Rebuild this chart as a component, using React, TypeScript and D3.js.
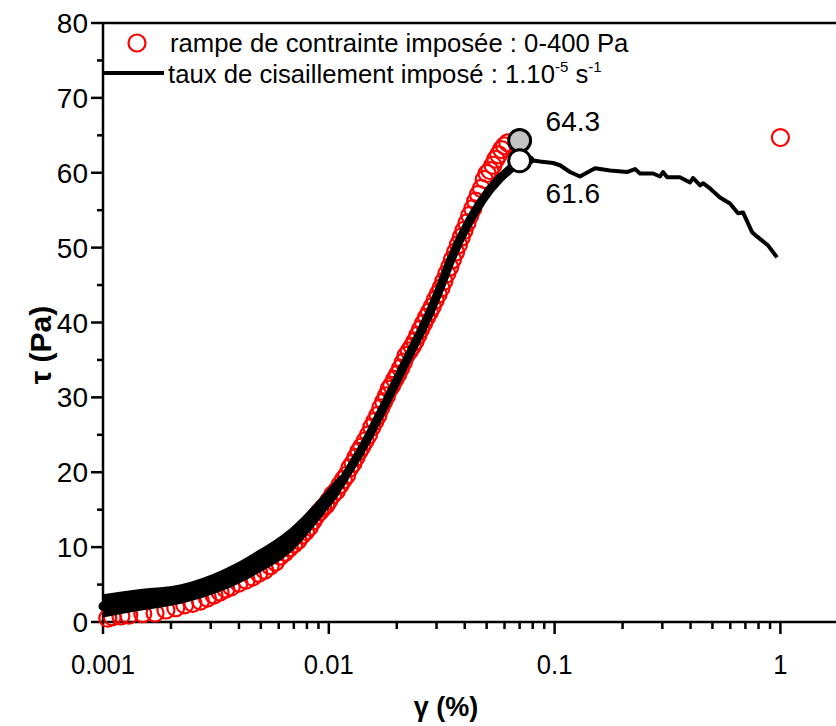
import React from "react";
import * as d3 from "d3";

// ---- Data ----
const redGamma = [0.00105, 0.0011, 0.0012, 0.0013, 0.0015, 0.0017, 0.0019, 0.0021, 0.0023, 0.0025, 0.0027, 0.0029, 0.0031, 0.0033, 0.0035, 0.0037, 0.004, 0.0043, 0.0046, 0.0049, 0.0052, 0.0055, 0.0058, 0.0061, 0.0064, 0.0067, 0.007, 0.0073, 0.0076, 0.0079, 0.0082, 0.0085, 0.0088, 0.0091, 0.0094, 0.0097, 0.01, 0.0104, 0.0108, 0.0112, 0.0116, 0.012, 0.0124, 0.0128, 0.0132, 0.0136, 0.014, 0.0145, 0.015, 0.0155, 0.016, 0.0165, 0.017, 0.0175, 0.018, 0.0185, 0.019, 0.0196, 0.0202, 0.0208, 0.0214, 0.022, 0.0227, 0.0234, 0.0241, 0.0248, 0.0255, 0.0263, 0.0271, 0.0279, 0.0287, 0.0296, 0.0305, 0.0314, 0.0323, 0.0333, 0.0343, 0.0353, 0.0364, 0.0375, 0.0386, 0.0397, 0.0409, 0.0421, 0.0434, 0.0447, 0.046, 0.0474, 0.0488, 0.0502, 0.0517, 0.0533, 0.0549, 0.0565, 0.0582, 0.06, 0.062, 1.0];
const redTau = [0.5, 0.7, 0.8, 0.9, 1.1, 1.2, 1.6, 1.9, 2.3, 2.5, 2.8, 3.2, 3.6, 4.0, 4.4, 4.7, 5.2, 5.6, 6.0, 6.5, 6.9, 7.5, 8.0, 8.8, 9.3, 9.9, 10.4, 10.9, 11.6, 12.1, 12.7, 13.5, 14.2, 14.7, 15.2, 15.6, 16.2, 17.0, 17.5, 18.3, 19.0, 19.6, 20.6, 21.2, 22.0, 22.8, 23.4, 24.2, 25.0, 26.0, 26.8, 27.6, 28.6, 29.4, 30.2, 31.1, 31.6, 32.4, 33.1, 33.9, 34.7, 35.6, 36.2, 36.8, 37.5, 38.3, 39.1, 39.9, 40.7, 41.4, 42.1, 43.0, 43.8, 44.6, 45.5, 46.5, 47.4, 48.4, 49.4, 50.4, 51.4, 52.3, 53.3, 54.3, 55.2, 56.2, 57.1, 57.9, 59.1, 59.9, 60.3, 61.0, 61.8, 62.4, 63.1, 63.6, 64.0, 64.7];

const blackGamma = [0.001, 0.00146, 0.00219, 0.0034, 0.00481, 0.00673, 0.00941, 0.0112, 0.0137, 0.0152, 0.0181, 0.0213, 0.0254, 0.0281, 0.0311, 0.0344, 0.0381, 0.0422, 0.0467, 0.0518, 0.0573, 0.0635, 0.0696, 0.0778];
const blackTau = [2.1, 2.9, 3.7, 5.6, 8.0, 10.8, 15.6, 18.3, 22.6, 25.1, 29.6, 34.0, 38.6, 41.4, 44.6, 48.1, 51.1, 53.7, 55.9, 57.8, 59.3, 60.5, 61.4, 61.7];

const tailGamma = [0.0778, 0.0861, 0.0984, 0.1057, 0.117, 0.1295, 0.151, 0.176, 0.209, 0.227, 0.239, 0.273, 0.293, 0.302, 0.315, 0.359, 0.398, 0.41, 0.441, 0.454, 0.488, 0.54, 0.598, 0.649, 0.683, 0.748, 0.787, 0.881, 0.966];
const tailTau = [61.7, 61.5, 61.3, 61.0, 60.1, 59.5, 60.6, 60.3, 60.1, 60.5, 59.9, 59.9, 59.5, 60.1, 59.4, 59.4, 58.7, 59.3, 58.3, 58.6, 57.9, 56.7, 55.9, 54.6, 54.7, 52.1, 51.5, 50.3, 48.7];

const bandGamma = [0.001, 0.00146, 0.00219, 0.0034, 0.00481, 0.00673, 0.00941, 0.0112];
const bandLow = [0.6, 1.5, 2.4, 4.2, 6.4, 9.2, 14.2, 17.1];
const bandHigh = [3.7, 4.4, 5.0, 7.0, 9.5, 12.5, 17.0, 19.6];

const peakGamma = [0.07, 0.07];
const peakTau = [64.3, 61.6];
const peakLabels = ["64.3", "61.6"];

const xMajorTicks = [0.001, 0.01, 0.1, 1];
const xTickLabels = ["0.001", "0.01", "0.1", "1"];
const yMajorTicks = [0, 10, 20, 30, 40, 50, 60, 70, 80];
const yMinorTicks = [5, 15, 25, 35, 45, 55, 65, 75];

const FONT = "'Liberation Sans', Arial, sans-serif";

export default function App() {
  const W = 836, H = 726;
  const x = d3.scaleLog().domain([0.001, 1.763]).range([103, 836]);
  const y = d3.scaleLinear().domain([0, 80]).range([622, 23]);

  const xMinor: number[] = [];
  [0.001, 0.01, 0.1].forEach((d) => {
    for (let k = 2; k <= 9; k++) xMinor.push(d * k);
  });

  const line = d3.line<[number, number]>().x((d) => x(d[0])).y((d) => y(d[1]));
  const rise = blackGamma.map((g, i) => [g, blackTau[i]] as [number, number]);
  const tail = tailGamma.map((g, i) => [g, tailTau[i]] as [number, number]);
  const band = d3
    .area<number>()
    .x((_, i) => x(bandGamma[i]))
    .y0((_, i) => y(bandLow[i]))
    .y1((_, i) => y(bandHigh[i]))
    .curve(d3.curveMonotoneX);

  return (
    <svg width={W} height={H} style={{ position: "absolute", left: 0, top: 0, background: "#fff" }} fontFamily={FONT}>
      <rect width={W} height={H} fill="#fff" />
      {/* axes */}
      <g stroke="#000" strokeWidth={2.5} fill="none">
        <line x1={103} y1={23} x2={103} y2={622} />
        <line x1={103} y1={23} x2={836} y2={23} />
        <line x1={100} y1={622} x2={836} y2={622} />
        {yMajorTicks.map((t) => (
          <line key={"ym" + t} x1={91} x2={103} y1={y(t)} y2={y(t)} />
        ))}
        {yMinorTicks.map((t) => (
          <line key={"yn" + t} x1={97} x2={103} y1={y(t)} y2={y(t)} />
        ))}
        {xMajorTicks.map((t) => (
          <line key={"xm" + t} x1={x(t)} x2={x(t)} y1={622} y2={634} />
        ))}
        {xMinor.map((t, i) => (
          <line key={"xn" + i} x1={x(t)} x2={x(t)} y1={622} y2={629} />
        ))}
      </g>
      {/* tick labels */}
      <g fill="#000">
        {yMajorTicks.map((t) => (
          <text key={"yl" + t} x={88} y={y(t) + 10} textAnchor="end" fontSize={28}>
            {t}
          </text>
        ))}
        {xMajorTicks.map((t, i) => (
          <text key={"xl" + t} x={x(t)} y={674} textAnchor="middle" fontSize={27} transform={`translate(${x(t)},0) scale(0.95,1) translate(${-x(t)},0)`}>
            {xTickLabels[i]}
          </text>
        ))}
      </g>
      {/* axis titles */}
      <text x={446} y={716} textAnchor="middle" fontSize={27} fontWeight="bold">
        γ (%)
      </text>
      <text transform="translate(51,345) rotate(-90)" textAnchor="middle" fontSize={30} fontWeight="bold">
        τ (Pa)
      </text>

      {/* red open circles */}
      <g fill="none" stroke="#ff0000" strokeWidth={2.2}>
        {redGamma.map((g, i) => (
          <circle key={"r" + i} cx={x(g)} cy={y(redTau[i])} r={8.5} />
        ))}
      </g>
      {/* black series */}
      <path d={band(bandGamma) || ""} fill="#000" />
      <path d={line(rise) || ""} fill="none" stroke="#000" strokeWidth={9} strokeLinejoin="round" strokeLinecap="round" />
      <path d={line(tail) || ""} fill="none" stroke="#000" strokeWidth={4} strokeLinejoin="round" />

      {/* peak markers */}
      <circle cx={x(peakGamma[0])} cy={y(peakTau[0])} r={11} fill="#c4c4c4" stroke="#000" strokeWidth={3} />
      <circle cx={x(peakGamma[1])} cy={y(peakTau[1])} r={11} fill="#fff" stroke="#000" strokeWidth={3} />
      <text x={x(peakGamma[0]) + 26} y={y(peakTau[0]) - 10} fontSize={28}>
        {peakLabels[0]}
      </text>
      <text x={x(peakGamma[1]) + 26} y={y(peakTau[1]) + 42} fontSize={28}>
        {peakLabels[1]}
      </text>

      {/* legend */}
      <circle cx={137} cy={43} r={8.5} fill="none" stroke="#ff0000" strokeWidth={2.2} />
      <text x={170} y={52} fontSize={25.7}>
        rampe de contrainte imposée : 0-400 Pa
      </text>
      <line x1={103} x2={164} y1={73} y2={73} stroke="#000" strokeWidth={4} />
      <text x={168} y={83} fontSize={25.7}>
        taux de cisaillement imposé : 1.10
        <tspan fontSize={15} dy={-11}>-5</tspan>
        <tspan dy={11}> s</tspan>
        <tspan fontSize={15} dy={-11}>-1</tspan>
      </text>
    </svg>
  );
}
